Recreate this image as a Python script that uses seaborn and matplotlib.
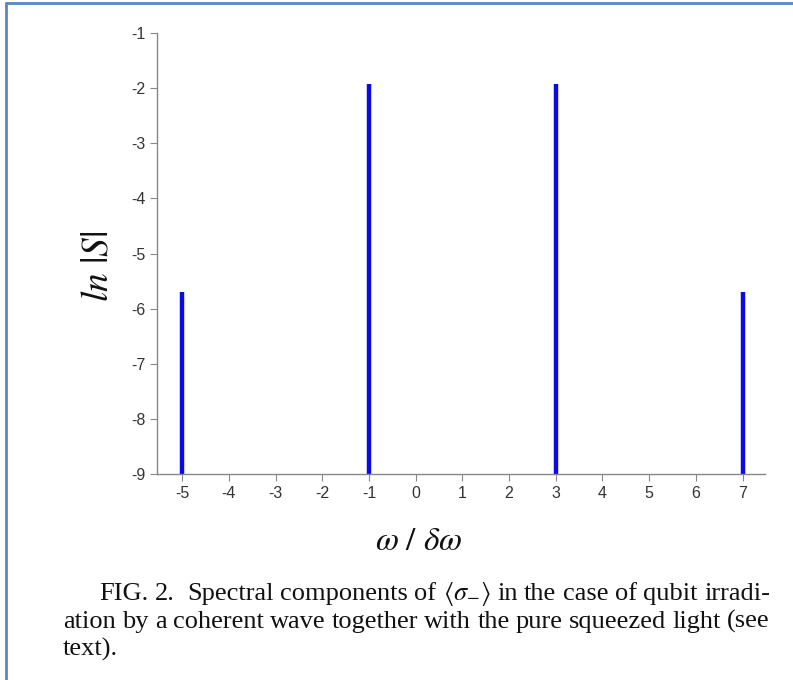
import matplotlib
matplotlib.use("Agg")
import matplotlib.pyplot as plt
from matplotlib.lines import Line2D
import seaborn as sns

# data
frequencies = [-5, -1, 3, 7]
ln_s_values = [-5.70, -1.93, -1.93, -5.70]
x_ticks = list(range(-5, 8))
y_ticks = list(range(-9, 0))
caption_lines = [
    ["FIG.", "2.", "", "Spectral", "components", "of", r"$\langle\sigma_{-}\rangle$", "in", "the", "case", "of", "qubit", "irradi-"],
    ["ation", "by", "a", "coherent", "wave", "together", "with", "the", "pure", "squeezed", "light", "(see"],
    ["text)."],
]

sns.set_theme(style="ticks")
plt.rcParams["font.family"] = ["Liberation Sans", "DejaVu Sans"]
plt.rcParams["mathtext.fontset"] = "stix"

W, H = 793, 680
fig = plt.figure(figsize=(W / 100, H / 100), dpi=100)
fig.patch.set_facecolor("white")
ax = fig.add_axes([157 / W, 1 - 474 / H, (765 - 157) / W, (474 - 33) / H])

base = y_ticks[0]
ax.vlines(frequencies, base, ln_s_values, color="#0a0ae6", linewidth=3.2)

ax.set_xlim(-5.54, 7.48)
ax.set_ylim(-9, -1)
ax.set_xticks(x_ticks)
ax.set_yticks(y_ticks)
ax.set_xticklabels([str(v) for v in x_ticks])
ax.set_yticklabels([str(v) for v in y_ticks])
ax.tick_params(axis="both", labelsize=11.5, colors="#333333", length=5, width=0.8, direction="out")
ax.tick_params(axis="both", color="#888888")
for s in ["top", "right"]:
    ax.spines[s].set_visible(False)
for s in ["left", "bottom"]:
    ax.spines[s].set_color("#888888")
    ax.spines[s].set_linewidth(1.0)
ax.set_facecolor("white")

fig.text(97 / W, 1 - 266 / H, r"$ln\ |S|$", rotation=90, fontsize=27, ha="center", va="center", color="#111111")
fig.text(419 / W, 1 - 542 / H, r"$\omega\ /\ \delta\omega$", fontsize=24, ha="center", va="center", color="#111111")

# justified caption
fig.canvas.draw()
renderer = fig.canvas.get_renderer()
cap_size = 19.0
line_y = [600, 628, 656]
line_x0 = [99, 63, 63]
right_edge = 770
for i, words in enumerate(caption_lines):
    y = 1 - line_y[i] / H
    if i == len(caption_lines) - 1:
        fig.text(line_x0[i] / W, y, " ".join(words), fontsize=cap_size, family="Liberation Serif",
                 ha="left", va="baseline", color="#111111")
        continue
    texts = []
    widths = []
    for w in words:
        t = fig.text(0, y, w if w else " ", fontsize=cap_size, family="Liberation Serif",
                     ha="left", va="baseline", color="#111111")
        bb = t.get_window_extent(renderer)
        texts.append(t)
        widths.append(bb.width if w else 0)
    total = sum(widths)
    gaps = len(words) - 1
    gap = (right_edge - line_x0[i] - total) / gaps
    x = line_x0[i]
    for t, wdt in zip(texts, widths):
        t.set_x(x / W)
        x += wdt + gap

# page border (top and left)
fig.add_artist(Line2D([6 / W, 1], [1 - 3 / H, 1 - 3 / H], color="#5b86c0", linewidth=2, transform=fig.transFigure))
fig.add_artist(Line2D([6 / W, 6 / W], [1 - 3 / H, 0], color="#5b86c0", linewidth=2, transform=fig.transFigure))

fig.savefig("out.png", dpi=100, facecolor="white")
